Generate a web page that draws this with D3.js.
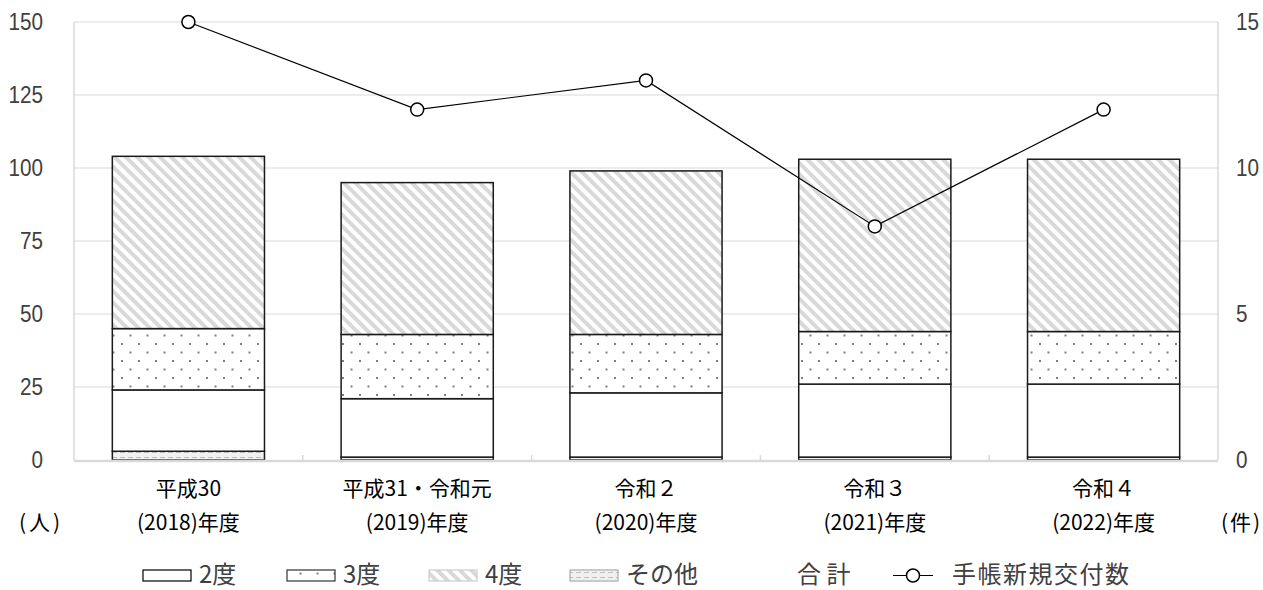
<!DOCTYPE html>
<html>
<head>
<meta charset="utf-8">
<script src="https://cdn.jsdelivr.net/npm/d3@7"></script>
<style>
  body { margin: 0; background: #fff; }
  svg { font-family: "Noto Sans CJK JP", "Noto Sans", sans-serif; }
</style>
</head>
<body>
<script>
// data
const line1 = ['平成30', '平成31・令和元', '令和２', '令和３', '令和４'];
const line2 = ['(2018)年度', '(2019)年度', '(2020)年度', '(2021)年度', '(2022)年度'];
const sonota = [3, 1, 1, 1, 1];   // その他
const deg2 = [21, 20, 22, 25, 25]; // 2度
const deg3 = [21, 22, 20, 18, 18]; // 3度
const deg4 = [59, 52, 56, 59, 59]; // 4度
const techo = [15, 12, 13, 8, 12]; // 手帳新規交付数 (件)
const leftTicks = [0, 25, 50, 75, 100, 125, 150];
const rightTicks = [0, 5, 10, 15];

const W = 1263, H = 590;
const margin = { top: 22, right: 45, bottom: 130, left: 74 };

const svg = d3.select('body').append('svg').attr('width', W).attr('height', H);

// patronen
const defs = svg.append('defs');
const stripes = defs.append('pattern').attr('id', 'p4').attr('patternUnits', 'userSpaceOnUse')
  .attr('width', 8).attr('height', 8).attr('patternTransform', 'rotate(-45)');
stripes.append('rect').attr('width', 8).attr('height', 8).attr('fill', '#fff');
stripes.append('rect').attr('width', 4).attr('height', 8).attr('fill', '#d9d9d9');

const dots = defs.append('pattern').attr('id', 'p3').attr('patternUnits', 'userSpaceOnUse')
  .attr('width', 17).attr('height', 17);
dots.append('rect').attr('width', 17).attr('height', 17).attr('fill', '#fff');
dots.append('rect').attr('x', 2).attr('y', 3).attr('width', 2).attr('height', 2).attr('fill', '#808080');
dots.append('rect').attr('x', 10.5).attr('y', 11.5).attr('width', 2).attr('height', 2).attr('fill', '#808080');

const dash = defs.append('pattern').attr('id', 'pso').attr('patternUnits', 'userSpaceOnUse')
  .attr('width', 8).attr('height', 5);
dash.append('rect').attr('width', 8).attr('height', 5).attr('fill', '#f0f0f0');
dash.append('rect').attr('x', 0).attr('y', 2).attr('width', 5).attr('height', 1).attr('fill', '#bfbfbf');

// schalen
const x = d3.scaleBand().domain(d3.range(line1.length))
  .range([margin.left, W - margin.right]).padding(0);
const barW = x.bandwidth() * 0.665;
const y = d3.scaleLinear().domain([0, 150]).range([H - margin.bottom, margin.top]);
const y2 = d3.scaleLinear().domain([0, 15]).range([H - margin.bottom, margin.top]);

// rasterlijnen
svg.append('g').selectAll('line').data(leftTicks.slice(1)).join('line')
  .attr('x1', margin.left).attr('x2', W - margin.right)
  .attr('y1', d => y(d)).attr('y2', d => y(d))
  .attr('stroke', '#d9d9d9').attr('stroke-width', 1);

[margin.left, W - margin.right].forEach(px => {
  svg.append('line').attr('x1', px).attr('x2', px)
    .attr('y1', y(150)).attr('y2', y(0))
    .attr('stroke', '#d9d9d9').attr('stroke-width', 1.5);
});

// assen tekst (smalle cijfers zoals in het origineel)
const narrow = sel => sel.attr('font-size', 24).attr('fill', '#404040')
  .attr('font-family', '"Liberation Sans", sans-serif')
  .attr('textLength', function () { return this.textContent.length * 11.5; })
  .attr('lengthAdjust', 'spacingAndGlyphs');

const yaxis = d3.axisLeft(y).tickValues(leftTicks).tickSize(0).tickPadding(31);
const gy = svg.append('g').attr('transform', `translate(${margin.left},0)`).call(yaxis);
gy.select('.domain').remove();
gy.selectAll('text').call(narrow);

const yaxis2 = d3.axisRight(y2).tickValues(rightTicks).tickSize(0).tickPadding(18);
const gy2 = svg.append('g').attr('transform', `translate(${W - margin.right},0)`).call(yaxis2);
gy2.select('.domain').remove();
gy2.selectAll('text').call(narrow);

// gestapelde balken
const keys = ['so', 'd2', 'd3', 'd4'];
const fills = { so: 'url(#pso)', d2: '#fff', d3: 'url(#p3)', d4: 'url(#p4)' };
const rows = line1.map((c, i) => ({ i, so: sonota[i], d2: deg2[i], d3: deg3[i], d4: deg4[i] }));
const stack = d3.stack().keys(keys)(rows);

svg.append('g').selectAll('g').data(stack).join('g')
  .attr('fill', d => fills[d.key])
  .selectAll('rect').data(d => d).join('rect')
  .attr('x', d => x(d.data.i) + (x.bandwidth() - barW) / 2)
  .attr('width', barW)
  .attr('y', d => y(d[1]))
  .attr('height', d => y(d[0]) - y(d[1]))
  .attr('stroke', '#1a1a1a').attr('stroke-width', 1.5);

// x-as
svg.append('line').attr('x1', margin.left).attr('x2', W - margin.right)
  .attr('y1', y(0) + 1).attr('y2', y(0) + 1)
  .attr('stroke', '#d9d9d9').attr('stroke-width', 2.5);
svg.append('g').selectAll('line').data(d3.range(1, line1.length)).join('line')
  .attr('x1', d => x(d)).attr('x2', d => x(d))
  .attr('y1', y(0) - 5).attr('y2', y(0))
  .attr('stroke', '#d9d9d9').attr('stroke-width', 1.5);

const cat = svg.append('g').attr('font-size', 21).attr('fill', '#000').attr('text-anchor', 'middle');
cat.selectAll('.l1').data(line1).join('text').attr('class', 'l1')
  .attr('x', (d, i) => x(i) + x.bandwidth() / 2).attr('y', 496).text(d => d);
cat.selectAll('.l2').data(line2).join('text').attr('class', 'l2')
  .attr('x', (d, i) => x(i) + x.bandwidth() / 2).attr('y', 530).text(d => d);

svg.append('text').attr('x', 19).attr('y', 530).attr('font-size', 21)
  .attr('letter-spacing', 3).text('(人)');
svg.append('text').attr('x', 1221).attr('y', 530).attr('font-size', 21)
  .attr('letter-spacing', 2).text('(件)');

// lijn
const line = d3.line().x((d, i) => x(i) + x.bandwidth() / 2).y(d => y2(d));
svg.append('path').datum(techo).attr('d', line)
  .attr('fill', 'none').attr('stroke', '#000').attr('stroke-width', 1.2);
svg.append('g').selectAll('circle').data(techo).join('circle')
  .attr('cx', (d, i) => x(i) + x.bandwidth() / 2).attr('cy', d => y2(d)).attr('r', 6.5)
  .attr('fill', '#fff').attr('stroke', '#000').attr('stroke-width', 1.5);

// legenda
const legItems = [
  { label: '2度', fill: '#fff', stroke: '#000', x: 143 },
  { label: '3度', fill: 'url(#p3)', stroke: '#333', x: 287 },
  { label: '4度', fill: 'url(#p4)', stroke: '#ccc', x: 429 },
  { label: 'その他', fill: 'url(#pso)', stroke: '#aaa', x: 570 }
];
const leg = svg.append('g').attr('font-size', 24).attr('fill', '#404040');
leg.selectAll('rect').data(legItems).join('rect')
  .attr('x', d => d.x).attr('y', 570).attr('width', 48).attr('height', 11)
  .attr('fill', d => d.fill).attr('stroke', d => d.stroke).attr('stroke-width', 1.2);
leg.selectAll('text.it').data(legItems).join('text').attr('class', 'it')
  .attr('x', d => d.x + 56).attr('y', 583).text(d => d.label);
leg.append('text').attr('x', 797).attr('y', 583).text('合 計');
leg.append('line').attr('x1', 893).attr('x2', 933).attr('y1', 575.5).attr('y2', 575.5)
  .attr('stroke', '#000').attr('stroke-width', 1.2);
leg.append('circle').attr('cx', 913).attr('cy', 575.5).attr('r', 6.5)
  .attr('fill', '#fff').attr('stroke', '#000').attr('stroke-width', 1.5);
leg.append('text').attr('x', 952).attr('y', 583).attr('letter-spacing', 1.5).text('手帳新規交付数');
</script>
</body>
</html>
